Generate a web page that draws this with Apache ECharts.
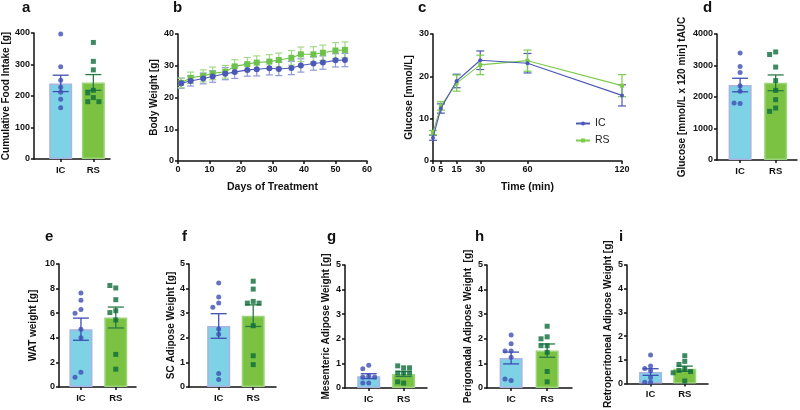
<!DOCTYPE html>
<html>
<head>
<meta charset="utf-8">
<script src="https://cdn.jsdelivr.net/npm/echarts@6/dist/echarts.min.js"></script>
<style>
  html, body { margin: 0; padding: 0; background: #fff; }
  #main { width: 800px; height: 410px; }
</style>
</head>
<body>
<div id="main"></div>
<script>
// groups
var cats = ['IC', 'RS'];

// a - cumulative food intake [g]
var foodIC = [397, 293, 250, 228, 212, 190, 163];
var foodRS = [370, 310, 283, 218, 210, 195, 182, 182];
var foodMean = [240, 243];
var foodSem = [26, 25];

// b - body weight over days
var days = [1, 4, 8, 11, 15, 18, 22, 25, 29, 32, 36, 39, 43, 46, 50, 53];
var bwIC = [24.5, 25.2, 26.0, 26.6, 27.5, 28.0, 28.7, 28.9, 29.2, 29.0, 29.3, 30.1, 30.7, 31.0, 31.7, 31.8];
var bwRS = [24.6, 26.2, 26.8, 27.6, 28.1, 29.8, 30.5, 31.0, 31.3, 31.8, 32.5, 33.6, 33.6, 34.1, 34.8, 35.0];
var bwICerr = [1.6, 1.6, 1.7, 1.8, 1.9, 2.0, 2.0, 2.1, 2.1, 2.1, 2.1, 2.1, 2.1, 2.1, 2.1, 2.1];
var bwRSerr = [1.5, 1.8, 1.9, 2.0, 2.0, 2.1, 2.1, 2.1, 2.2, 2.2, 2.3, 2.3, 2.4, 2.4, 2.5, 2.5];

// c - glucose tolerance
var times = [0, 5, 15, 30, 60, 120];
var gluIC = [5.5, 12.4, 18.9, 23.8, 23.1, 15.5];
var gluRS = [6.7, 13.0, 18.4, 22.7, 23.7, 17.8];
var gluICerr = [0.6, 1.1, 1.6, 2.2, 2.3, 2.5];
var gluRSerr = [0.5, 1.0, 1.9, 2.3, 2.5, 2.6];

// d - glucose tAUC
var aucIC = [3400, 2970, 2780, 2360, 2180, 1790, 1810];
var aucRS = [3430, 3350, 2950, 2520, 2210, 1915, 1650, 1545];
var aucMean = [2380, 2450];
var aucSem = [215, 250];

// e - WAT weight [g]
var watIC = [7.65, 7.05, 6.3, 6.0, 4.7, 4.0, 1.2, 0.8];
var watRS = [8.05, 8.25, 7.1, 6.2, 6.05, 5.45, 2.65, 1.45];
var watMean = [4.7, 5.65];
var watSem = [0.9, 0.85];

// f - SC adipose
var scIC = [4.23, 3.66, 3.41, 3.24, 2.36, 2.14, 0.55, 0.3];
var scRS = [4.3, 3.98, 3.48, 3.41, 3.41, 2.49, 1.27, 0.91];
var scMean = [2.48, 2.9];
var scSem = [0.5, 0.44];

// g - mesenteric adipose
var mesIC = [0.92, 0.78, 0.5, 0.45, 0.45, 0.2, 0.2];
var mesRS = [0.82, 0.9, 0.82, 0.61, 0.61, 0.61, 0.2, 0.25];
var mesMean = [0.48, 0.57];
var mesSem = [0.1, 0.1];

// h - perigonadal adipose
var perIC = [2.15, 1.8, 1.5, 1.5, 1.25, 0.3, 0.37];
var perRS = [2.51, 2.08, 2.0, 1.72, 1.72, 1.45, 0.67, 0.25];
var perMean = [1.22, 1.52];
var perSem = [0.24, 0.27];

// i - retroperitoneal adipose
var retIC = [1.2, 0.74, 0.63, 0.53, 0.25, 0.05, 0.05];
var retRS = [1.17, 0.93, 0.8, 0.62, 0.55, 0.5, 0.45, 0.1];
var retMean = [0.48, 0.62];
var retSem = [0.14, 0.11];

var font = 'Liberation Sans';
var ink = '#111';
var icBar = '#7dd2e6', icBorder = '#aab3e2', icDot = '#3f4fb3';
var rsBar = '#7bc242', rsBorder = '#9bd47a', rsDot = '#0e6b3b', rsErr = '#2a7a46';

var option = {
    animation: false,
    backgroundColor: '#fff',
    textStyle: { fontFamily: font },
    title: [],
    legend: {
        data: ['IC', 'RS'],
        orient: 'vertical',
        left: 570,
        top: 113,
        itemWidth: 14,
        itemHeight: 5,
        itemGap: 6,
        textStyle: { fontSize: 10.5, color: '#222', fontFamily: font }
    },
    grid: [],
    xAxis: [],
    yAxis: [],
    series: []
};

function letter(t, x, y) {
    option.title.push({
        text: t, left: x, top: y, padding: 0,
        textStyle: { fontSize: 15, fontWeight: 'bold', color: ink, fontFamily: font }
    });
}

function baseAxis() {
    return {
        axisLine: { show: true, onZero: false, lineStyle: { color: ink, width: 1.5 } },
        axisTick: { show: true, length: 3, lineStyle: { color: ink, width: 1.5 } },
        axisLabel: { color: ink, fontSize: 9, fontWeight: 'bold', margin: 4, fontFamily: font,
            formatter: function (v) { return String(v); } },
        splitLine: { show: false },
        nameTextStyle: { color: ink, fontSize: 10, fontWeight: 'bold', fontFamily: font }
    };
}

function yAxisOf(gi, max, interval, name, gap) {
    var a = baseAxis();
    a.type = 'value';
    a.gridIndex = gi;
    a.min = 0;
    a.max = max;
    a.interval = interval;
    a.name = name;
    a.nameLocation = 'middle';
    a.nameGap = gap;
    return a;
}

function errRender(color, capHalf, lw) {
    return function (params, api) {
        var x = api.value(0);
        var top = api.coord([x, api.value(2)]);
        var bot = api.coord([x, api.value(1)]);
        var st = { stroke: color, lineWidth: lw };
        return {
            type: 'group',
            children: [
                { type: 'line', shape: { x1: top[0], y1: top[1], x2: bot[0], y2: bot[1] }, style: st },
                { type: 'line', shape: { x1: top[0] - capHalf, y1: top[1], x2: top[0] + capHalf, y2: top[1] }, style: st },
                { type: 'line', shape: { x1: bot[0] - capHalf, y1: bot[1], x2: bot[0] + capHalf, y2: bot[1] }, style: st }
            ]
        };
    };
}

// simple beeswarm so that close dots sit side by side
function swarm(vals, mid, yMax) {
    var placed = [];
    var offs = [0, -0.17, 0.17, -0.34, 0.34];
    return vals.map(function (v) {
        for (var k = 0; k < offs.length; k++) {
            var o = offs[k];
            var hit = placed.some(function (p) {
                return Math.abs(p[0] - o) < 0.15 && Math.abs(p[1] - v) < yMax * 0.04;
            });
            if (!hit) { placed.push([o, v]); return [mid + o, v]; }
        }
        placed.push([0, v]);
        return [mid, v];
    });
}

function barPanel(box, xr, icVals, rsVals, mean, sem, yMax, yInt, yName, gap, lbl) {
    var gi = option.grid.length;
    option.grid.push({ left: box[0], top: box[1], width: box[2], height: box[3], containLabel: false });
    var xa = baseAxis();
    xa.type = 'value';
    xa.gridIndex = gi;
    xa.min = xr[0];
    xa.max = xr[1];
    xa.axisLabel.customValues = [0, 1];
    xa.axisLabel.fontSize = 9.5;
    xa.axisLabel.margin = 6;
    xa.axisLabel.formatter = function (v) { return cats[Math.round(v)]; };
    xa.axisTick.customValues = [0, 1];
    option.xAxis.push(xa);
    option.yAxis.push(yAxisOf(gi, yMax, yInt, yName, gap));

    option.series.push({
        type: 'bar', name: 'bar' + gi, xAxisIndex: gi, yAxisIndex: gi,
        barWidth: 23,
        data: [
            { value: [0, mean[0]], itemStyle: { color: icBar, borderColor: icBorder, borderWidth: 1.5 } },
            { value: [1, mean[1]], itemStyle: { color: rsBar, borderColor: rsBorder, borderWidth: 1.5 } }
        ]
    });
    option.series.push({
        type: 'custom', name: 'errIC' + gi, xAxisIndex: gi, yAxisIndex: gi, z: 3,
        renderItem: errRender(icDot, 8, 1.3),
        data: [[0, mean[0] - sem[0], mean[0] + sem[0]]]
    });
    option.series.push({
        type: 'custom', name: 'errRS' + gi, xAxisIndex: gi, yAxisIndex: gi, z: 3,
        renderItem: errRender(rsErr, 8, 1.3),
        data: [[1, mean[1] - sem[1], mean[1] + sem[1]]]
    });
    option.series.push({
        type: 'scatter', name: 'ptIC' + gi, xAxisIndex: gi, yAxisIndex: gi, z: 4,
        symbol: 'circle', symbolSize: 5,
        itemStyle: { color: icDot },
        data: swarm(icVals, 0, yMax)
    });
    option.series.push({
        type: 'scatter', name: 'ptRS' + gi, xAxisIndex: gi, yAxisIndex: gi, z: 4,
        symbol: 'rect', symbolSize: 5,
        itemStyle: { color: rsDot },
        data: swarm(rsVals, 1, yMax)
    });
    letter(lbl[0], lbl[1], lbl[2]);
}

function pairs(xs, ys) { return xs.map(function (x, i) { return [x, ys[i]]; }); }
function errs(xs, ys, es) { return xs.map(function (x, i) { return [x, ys[i] - es[i], ys[i] + es[i]]; }); }

function linePanel(box, xAxisOpt, yMax, yInt, yName, gap, xName, xs, icY, icE, rsY, rsE, names, look, lbl) {
    var gi = option.grid.length;
    option.grid.push({ left: box[0], top: box[1], width: box[2], height: box[3], containLabel: false });
    var xa = baseAxis();
    xa.type = 'value';
    xa.gridIndex = gi;
    xa.name = xName;
    xa.nameLocation = 'middle';
    xa.nameGap = 21;
    xa.nameTextStyle.fontSize = 10.5;
    for (var k in xAxisOpt) xa[k] = xAxisOpt[k];
    option.xAxis.push(xa);
    option.yAxis.push(yAxisOf(gi, yMax, yInt, yName, gap));

    option.series.push({
        type: 'custom', name: 'eIC' + gi, xAxisIndex: gi, yAxisIndex: gi, z: 2,
        renderItem: errRender(look.icErr, look.cap, 1.2),
        data: errs(xs, icY, icE)
    });
    option.series.push({
        type: 'custom', name: 'eRS' + gi, xAxisIndex: gi, yAxisIndex: gi, z: 2,
        renderItem: errRender(look.rsErr, look.cap, 1.2),
        data: errs(xs, rsY, rsE)
    });
    option.series.push({
        type: 'line', name: names[1], xAxisIndex: gi, yAxisIndex: gi, z: 3,
        symbol: 'rect', symbolSize: look.sym, showSymbol: true,
        lineStyle: { color: look.rsLine, width: 1.1 },
        itemStyle: { color: look.rsLine },
        data: pairs(xs, rsY)
    });
    option.series.push({
        type: 'line', name: names[0], xAxisIndex: gi, yAxisIndex: gi, z: 4,
        symbol: 'circle', symbolSize: look.sym, showSymbol: true,
        lineStyle: { color: look.icLine, width: 1.1 },
        itemStyle: { color: look.icLine },
        data: pairs(xs, icY)
    });
    letter(lbl[0], lbl[1], lbl[2]);
}

// top row
barPanel([32, 33, 78, 126], [-0.82, 1.51], foodIC, foodRS, foodMean, foodSem, 400, 100,
    'Cumulative Food Intake [g]', 22, ['a', 22, 0]);

linePanel([178, 34, 189, 127], { min: 0, max: 60, interval: 10 }, 40, 10, 'Body Weight [g]', 19,
    'Days of Treatment', days, bwIC, bwICerr, bwRS, bwRSerr, ['IC b', 'RS b'],
    { icErr: '#8f97d8', rsErr: '#a3d986', icLine: '#4c58b8', rsLine: '#6cc24a', cap: 3.5, sym: 6 },
    ['b', 173, 0]);

linePanel([433, 34, 189, 127],
    { min: 0, max: 120, axisLabel: { customValues: times, color: ink, fontSize: 9, fontWeight: 'bold', margin: 4, fontFamily: font },
      axisTick: { show: true, customValues: times, length: 3, lineStyle: { color: ink, width: 1.5 } } },
    30, 10, 'Glucose [mmol/L]', 19,
    'Time (min)', times, gluIC, gluICerr, gluRS, gluRSerr, ['IC', 'RS'],
    { icErr: '#4c58b8', rsErr: '#7ccb4b', icLine: '#4c58b8', rsLine: '#7ccb4b', cap: 4, sym: 4 },
    ['c', 418, 0]);

barPanel([717, 34, 80, 126], [-0.65, 1.6], aucIC, aucRS, aucMean, aucSem, 4000, 1000,
    'Glucose [mmol/L x 120 min] tAUC', 30, ['d', 703, 0]);

// bottom row
barPanel([59, 264, 77, 123], [-0.63, 1.58], watIC, watRS, watMean, watSem, 10, 2,
    'WAT weight [g]', 21, ['e', 45, 229]);
barPanel([189, 264, 87, 123], [-0.86, 1.66], scIC, scRS, scMean, scSem, 5, 1,
    'SC Adipose Weight [g]', 13, ['f', 182, 229]);
barPanel([345, 265, 82, 123], [-0.68, 1.67], mesIC, mesRS, mesMean, mesSem, 5, 1,
    'Mesenteric Adipose Weight [g]', 14, ['g', 327, 229]);
barPanel([487, 265, 85, 123], [-0.67, 1.69], perIC, perRS, perMean, perSem, 5, 1,
    'Perigonadal Adipose Weight  [g]', 14, ['h', 475, 229]);
barPanel([627, 265, 81, 122], [-0.69, 1.68], retIC, retRS, retMean, retSem, 5, 1,
    'Retroperitoneal Adipose Weight [g]', 14, ['i', 619, 229]);

var chart = echarts.init(document.getElementById('main'));
chart.setOption(option);
window.onresize = function () { chart.resize(); };
</script>
</body>
</html>
